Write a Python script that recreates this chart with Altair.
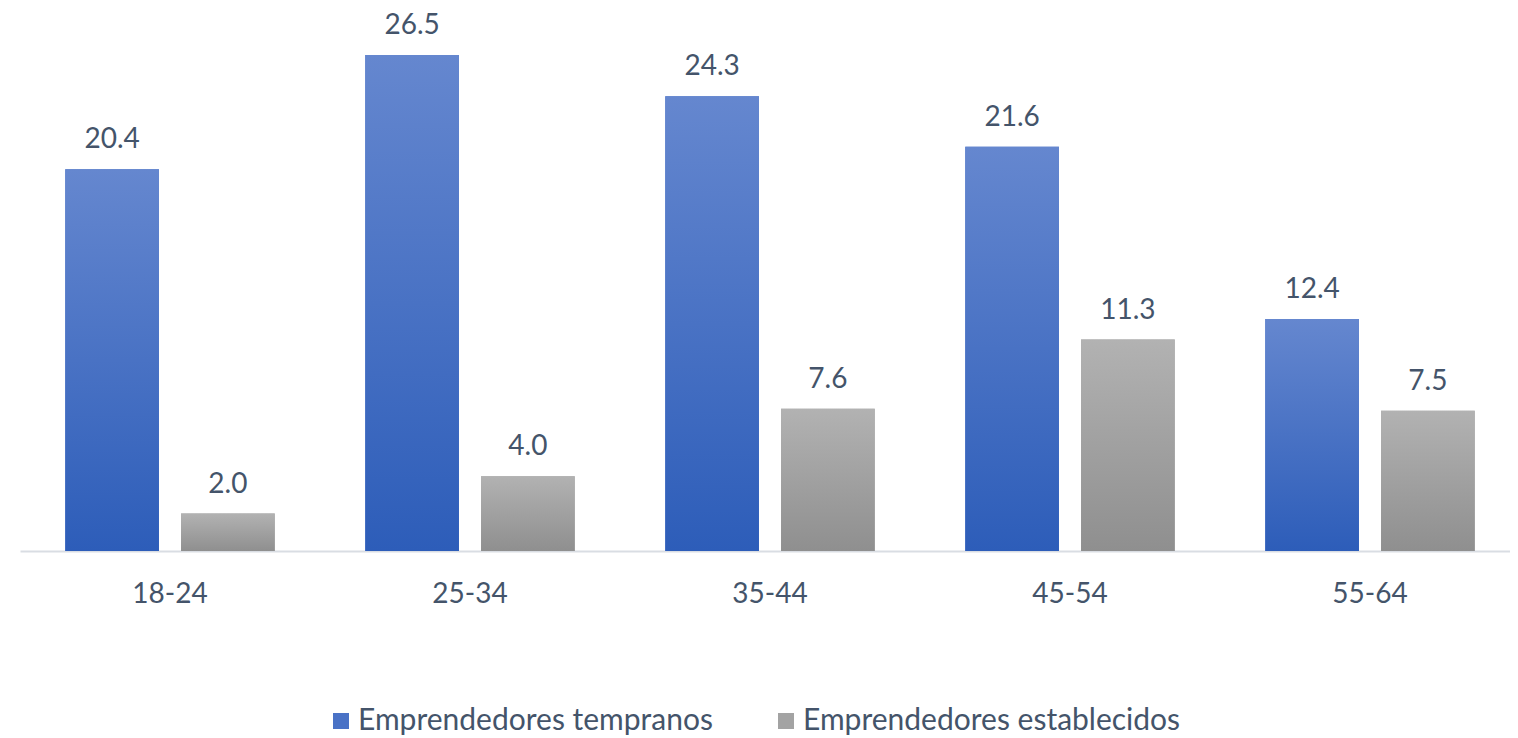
import altair as alt
import pandas as pd

cats = ["18-24", "25-34", "35-44", "45-54", "55-64"]
series = ["Emprendedores tempranos", "Emprendedores establecidos"]
tempranos = [20.4, 26.5, 24.3, 21.6, 12.4]
establecidos = [2.0, 4.0, 7.6, 11.3, 7.5]

rows = []
for c, a, b in zip(cats, tempranos, establecidos):
    rows.append({"age": c, "serie": series[0], "val": a})
    rows.append({"age": c, "serie": series[1], "val": b})
df = pd.DataFrame(rows)

TXT = "#44546A"
FONT = "Lato"

base = alt.Chart(df).encode(
    x=alt.X("age:N", sort=cats,
            scale=alt.Scale(domain=cats, paddingInner=0, paddingOuter=0),
            axis=alt.Axis(title=None, labelAngle=0, ticks=False, tickSize=0,
                          domainColor="#d9dde3", domainWidth=2,
                          labelFont=FONT, labelFontSize=28, labelColor=TXT,
                          labelPadding=29, grid=False)),
    xOffset=alt.XOffset("serie:N", sort=series,
                        scale=alt.Scale(domain=series, paddingInner=0.191, paddingOuter=0.391)),
    y=alt.Y("val:Q", scale=alt.Scale(domain=[0, 28.8], nice=False), axis=None),
)

solid = base.mark_bar().encode(
    color=alt.Color("serie:N",
                    scale=alt.Scale(domain=series, range=["#4a72c6", "#a3a3a3"]),
                    legend=alt.Legend(title=None, orient="none", direction="horizontal",
                                      legendX=306, legendY=694,
                                      labelFont=FONT, labelFontSize=30, labelColor=TXT,
                                      labelLimit=600, symbolType="square", symbolSize=256,
                                      symbolStrokeWidth=0, columnPadding=58, labelOffset=2))
)

def grad(c1, c2):
    return alt.Gradient(gradient="linear", x1=0, y1=0, x2=0, y2=1,
                        stops=[alt.GradientStop(offset=0, color=c1),
                               alt.GradientStop(offset=1, color=c2)])

blue = base.transform_filter(alt.datum.serie == series[0]).mark_bar(
    color=grad("#6587cf", "#2d5db9"))
gray = base.transform_filter(alt.datum.serie == series[1]).mark_bar(
    color=grad("#b2b2b2", "#8f8f8f"))

labels = base.mark_text(baseline="alphabetic", dy=-21, font=FONT, fontSize=28, color=TXT).encode(
    text=alt.Text("val:Q", format=".1f"))

chart = alt.layer(solid, blue, gray, labels).properties(
    width=1500, height=539,
    padding={"left": 12, "top": 4, "right": -10, "bottom": 0},
).configure_view(stroke=None)

chart.save("out.html", embed_options={"renderer": "svg", "actions": False})
